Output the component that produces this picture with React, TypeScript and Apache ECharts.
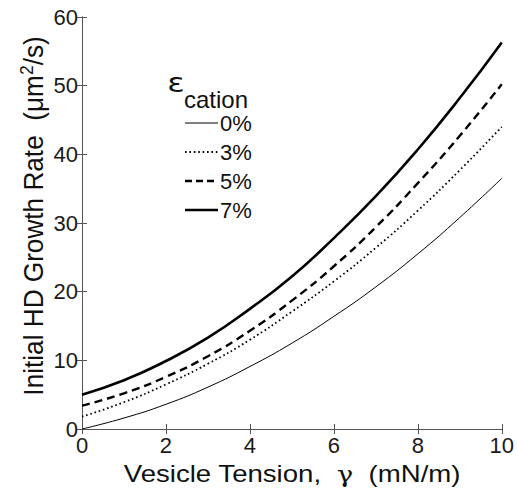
import React, { useEffect, useRef } from "react";
import * as echarts from "echarts";

const tension = [0, 1, 2, 3, 4, 5, 6, 7, 8, 9, 10];
const rate0 = [0, 1.6, 3.6, 6.1, 9.1, 12.5, 16.4, 20.7, 25.5, 30.8, 36.5];
const rate3 = [1.8, 3.9, 6.5, 9.5, 13.0, 17.1, 21.5, 26.4, 31.8, 37.7, 44.0];
const rate5 = [3.4, 5.2, 7.6, 10.6, 14.3, 18.7, 23.7, 29.4, 35.8, 42.7, 50.2];
const rate7 = [5.0, 7.1, 9.9, 13.3, 17.5, 22.2, 27.8, 33.9, 40.7, 48.2, 56.3];
const seriesNames = ["0%", "3%", "5%", "7%"];
const xTickValues = [0, 2, 4, 6, 8, 10];
const yTickValues = [0, 10, 20, 30, 40, 50, 60];

const FONT = "'Liberation Sans', Arial, Helvetica, sans-serif";

export default function App() {
  const ref = useRef<HTMLDivElement>(null);
  useEffect(() => {
    if (!ref.current) return;
    const chart = echarts.init(ref.current, undefined, { renderer: "svg" });
    const toPts = (arr: number[]) => tension.map((x, i) => [x, arr[i]]);
    const frame = { show: true, lineStyle: { color: "#555", width: 1 } };
    const tick = { show: true, inside: true, length: 5, lineStyle: { color: "#555" } };
    const lbl = { color: "#1a1a1a", fontSize: 22, fontFamily: FONT };
    const styles: { width: number; dash: any }[] = [
      { width: 1, dash: null },
      { width: 1.8, dash: [1.6, 2.8] },
      { width: 2.4, dash: [8, 5] },
      { width: 2.6, dash: null },
    ];
    const datas = [rate0, rate3, rate5, rate7];
    const legendRows = [123, 152, 181, 210];
    const legendGraphics: any[] = [];
    seriesNames.forEach((name, i) => {
      legendGraphics.push({
        type: "line",
        shape: { x1: 185, y1: legendRows[i], x2: 218, y2: legendRows[i] },
        style: {
          stroke: "#000",
          lineWidth: styles[i].width,
          lineDash: i === 2 ? [7, 4] : styles[i].dash || undefined,
        },
      });
      legendGraphics.push({
        type: "text",
        x: 220,
        y: legendRows[i],
        style: { text: name, fontSize: 22, fill: "#111", fontFamily: FONT, align: "left", verticalAlign: "middle" },
      });
    });
    chart.setOption({
      animation: false,
      backgroundColor: "#fff",
      grid: { left: 82, right: 13, top: 17, bottom: 62, containLabel: false },
      xAxis: [
        {
          type: "value", min: 0, max: 10, interval: 2,
          axisLine: frame, axisTick: tick, splitLine: { show: false },
          axisLabel: { ...lbl, margin: 5, formatter: (v: number) => (xTickValues.includes(v) ? String(v) : "") },
        },
        {
          type: "value", position: "top", min: 0, max: 10, interval: 2,
          axisLine: frame, axisTick: tick, splitLine: { show: false }, axisLabel: { show: false },
        },
      ],
      yAxis: [
        {
          type: "value", min: 0, max: 60, interval: 10,
          axisLine: frame, axisTick: tick, splitLine: { show: false },
          axisLabel: { ...lbl, margin: 4, formatter: (v: number) => (yTickValues.includes(v) ? String(v) : "") },
        },
        {
          type: "value", position: "right", min: 0, max: 60, interval: 10,
          axisLine: frame, axisTick: tick, splitLine: { show: false }, axisLabel: { show: false },
        },
      ],
      series: datas.map((d, i) => ({
        name: seriesNames[i],
        type: "line",
        data: toPts(d),
        smooth: true,
        symbol: "none",
        showSymbol: false,
        lineStyle: { color: "#000", width: styles[i].width, type: styles[i].dash || "solid" },
        itemStyle: { color: "#000" },
      })),
      graphic: [
        ...legendGraphics,
        {
          type: "text", x: 176, y: 82, scaleX: 1.2,
          style: { text: "ε", fontSize: 27, fill: "#111", fontFamily: "'DejaVu Sans', sans-serif", align: "center", verticalAlign: "middle" },
        },
        {
          type: "text", x: 184, y: 99,
          style: { text: "cation", fontSize: 24, fill: "#111", fontFamily: FONT, align: "left", verticalAlign: "middle" },
        },
        {
          type: "text", x: 292, y: 474, scaleX: 1.2,
          style: {
            text: "Vesicle Tension,  {g|γ}  (mN/m)",
            fontSize: 23, fill: "#111", fontFamily: FONT, align: "center", verticalAlign: "middle",
            rich: { g: { fontSize: 23, fontFamily: "'DejaVu Serif', serif", fill: "#111" } },
          },
        },
        {
          type: "text", x: 34, y: 216, rotation: Math.PI / 2, scaleX: 0.97,
          style: {
            text: "Initial HD Growth Rate  (μm{s|2}/s)",
            fontSize: 27, fill: "#111", fontFamily: FONT, align: "center", verticalAlign: "middle",
            rich: { s: { fontSize: 18, fill: "#111", fontFamily: FONT, verticalAlign: "top", padding: [0, 0, 14, 0] } },
          },
        },
      ],
    });
    return () => chart.dispose();
  }, []);
  return <div ref={ref} style={{ position: "absolute", left: 0, top: 0, width: 517, height: 491 }} />;
}
